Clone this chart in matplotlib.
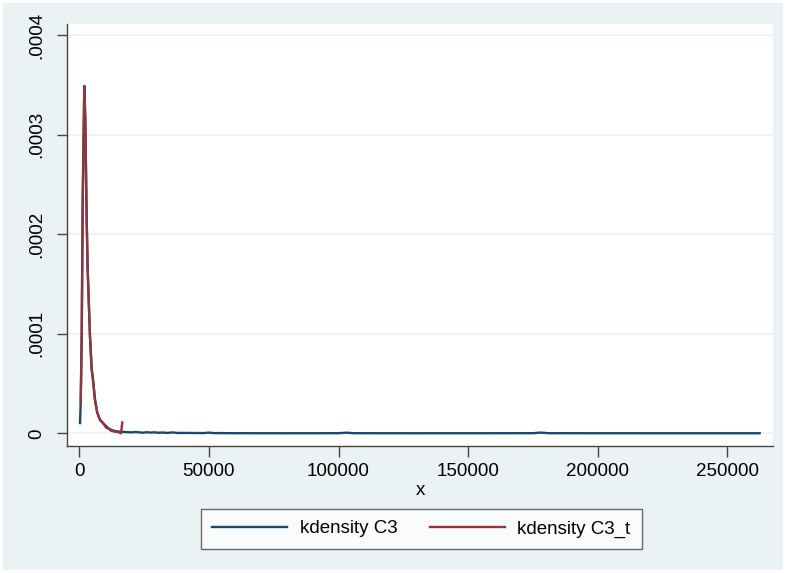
import matplotlib
matplotlib.use("Agg")
import matplotlib.pyplot as plt

# Kernel density estimates (x value, density)
c3_x = [270, 540, 930, 1300, 1930, 2320, 2580, 2850, 3240, 4130, 4780, 5170, 6060,
        6900, 7990, 9260, 10400, 11200, 12300, 13770, 15000, 16090, 17000, 18500,
        20000, 21500, 23000, 24500, 26000, 27500, 29000, 30500, 32000, 34000, 36000,
        38000, 40000, 45000, 48000, 50000, 52000, 55000, 60000, 80000, 100000,
        103000, 106000, 130000, 175000, 178000, 181000, 220000, 262500]
c3_y = [1.03e-5, 3.0e-5, 9.7e-5, 2.3e-4, 3.49e-4, 3.15e-4, 2.65e-4, 2.14e-4, 1.64e-4,
        9.7e-5, 6.4e-5, 5.7e-5, 3.35e-5, 2.1e-5, 1.34e-5, 1.0e-5, 7.0e-6, 5.0e-6,
        3.5e-6, 2.2e-6, 1.8e-6, 1.6e-6, 1.4e-6, 1.2e-6, 0.9e-6, 1.3e-6, 1.0e-6,
        0.6e-6, 1.1e-6, 0.7e-6, 1.0e-6, 0.5e-6, 0.8e-6, 0.4e-6, 0.9e-6, 0.3e-6,
        0.4e-6, 0.3e-6, 0.2e-6, 0.7e-6, 0.2e-6, 0.2e-6, 0.1e-6, 0.05e-6, 0.1e-6,
        0.6e-6, 0.1e-6, 0.05e-6, 0.1e-6, 0.7e-6, 0.1e-6, 0.05e-6, 0.05e-6]

c3t_x = [540, 930, 1300, 1930, 2320, 2580, 2850, 3240, 4130, 4780, 5170, 6060, 6900,
         7990, 9260, 10400, 11200, 12300, 13770, 15000, 16090, 16590]
c3t_y = [3.0e-5, 9.7e-5, 2.3e-4, 3.49e-4, 3.15e-4, 2.65e-4, 2.14e-4, 1.64e-4, 9.7e-5,
         6.4e-5, 5.7e-5, 3.35e-5, 2.1e-5, 1.34e-5, 1.0e-5, 5.5e-6, 5.0e-6, 2.5e-6,
         1.6e-6, 1.2e-6, 0.0, 1.1e-5]

x_ticks = [0, 50000, 100000, 150000, 200000, 250000]
x_tick_labels = ["0", "50000", "100000", "150000", "200000", "250000"]
y_ticks = [0, 0.0001, 0.0002, 0.0003, 0.0004]
y_tick_labels = ["0", ".0001", ".0002", ".0003", ".0004"]

BG = "#eaf2f3"
NAVY = "#1a476f"
MAROON = "#90353b"
AXIS = "#444444"

plt.rcParams["font.family"] = ["Liberation Sans", "DejaVu Sans"]

fig = plt.figure(figsize=(7.86, 5.73), dpi=100)
fig.patch.set_facecolor(BG)
fig.patch.set_edgecolor("white")
fig.patch.set_linewidth(4)

ax = fig.add_axes([67 / 786, 1 - 446 / 573, (773 - 67) / 786, (446 - 24) / 573])
ax.set_facecolor("white")

for y in y_ticks:
    ax.axhline(y, color=BG, lw=1.2, zorder=0)

l1, = ax.plot(c3_x, c3_y, color=NAVY, lw=1.7, zorder=3, label="kdensity C3")
l2, = ax.plot(c3t_x, c3t_y, color=MAROON, lw=1.7, zorder=4, label="kdensity C3_t")

ax.set_xlim(-4745, 267630)
ax.set_ylim(-1.276e-5, 4.113e-4)

ax.set_xticks(x_ticks)
ax.set_xticklabels(x_tick_labels, fontsize=13.5)
ax.set_yticks(y_ticks)
ax.set_yticklabels(y_tick_labels, fontsize=13.5, rotation=90, va="center")

for side in ("top", "right"):
    ax.spines[side].set_visible(False)
for side in ("left", "bottom"):
    ax.spines[side].set_color(AXIS)
    ax.spines[side].set_linewidth(1.0)

ax.tick_params(axis="x", direction="out", length=8, width=1, color=AXIS, pad=4)
ax.tick_params(axis="y", direction="out", length=7, width=1, color=AXIS, pad=9)

ax.set_xlabel("x", fontsize=13.5, labelpad=2)

leg = fig.legend(handles=[l1, l2], loc="center", bbox_to_anchor=(0.536, 0.077),
                 ncol=2, fontsize=13.5, frameon=True, fancybox=False,
                 handlelength=4.0, handletextpad=0.65, columnspacing=1.75,
                 borderpad=0.6, borderaxespad=0)
leg.get_frame().set_edgecolor(AXIS)
leg.get_frame().set_linewidth(1.0)
leg.get_frame().set_facecolor("white")

fig.savefig("out.png", dpi=100, facecolor=fig.get_facecolor(), edgecolor="white")
